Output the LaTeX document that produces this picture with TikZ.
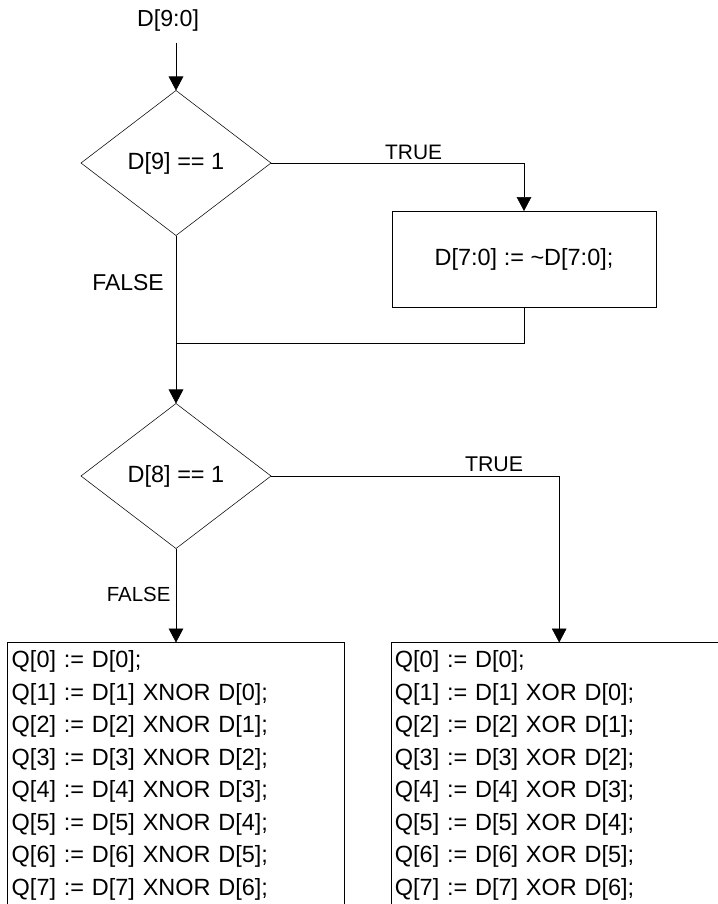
\documentclass[tikz,border=0pt]{standalone}
\usepackage{fontspec}
\setmainfont{Liberation Sans}
\usetikzlibrary{shapes.geometric,arrows.meta}
\usetikzlibrary{positioning}
\tikzset{auto,>={Triangle[length=10.5pt,width=11pt]}, line width=0.75pt, font=\fontsize{17.6}{24.4}\selectfont}
\tikzstyle{decision} = [draw, diamond, minimum width=142.5pt, minimum height=108.75pt, inner sep=0pt, outer sep=0pt]
\tikzstyle{block} = [draw, rectangle, minimum width=198pt, minimum height=72pt, outer sep=0pt]
\tikzstyle{listing} = [draw, rectangle, anchor=north, align=left, text width=246.4pt, inner xsep=3pt, inner ysep=6pt, text depth=200pt, outer sep=0pt]
\tikzstyle{input} = [coordinate]
\tikzstyle{tag} = [inner sep=0pt]
\begin{document}
\begin{tikzpicture}[x=0.75pt, y=-0.75pt]
    \useasboundingbox (0,0) rectangle (718,904);
    \node [decision] (d9) at (176,163) {D[9] == 1};
    \node [input, above=36pt of d9.north] (start) {};
    \node [tag, above=8pt of start, xshift=-6pt, font=\fontsize{17.4}{20}\selectfont] (din) {D[9:0]};
    \node [block, right=90.75pt of d9, yshift=-72pt] (inv) {D[7:0] := \textasciitilde D[7:0];};
    \node [input, below=27pt of inv.south] (inv_out) {};
    \node [decision, below=126pt of d9] (d8) {D[8] == 1};
    \node [listing, below=70.5pt of d8] (xnor) {Q[0] := D[0];\\
        Q[1] := D[1] XNOR D[0];\\
        Q[2] := D[2] XNOR D[1];\\
        Q[3] := D[3] XNOR D[2];\\
        Q[4] := D[4] XNOR D[3];\\
        Q[5] := D[5] XNOR D[4];\\
        Q[6] := D[6] XNOR D[5];\\
        Q[7] := D[7] XNOR D[6];};
    \node [listing, right=35pt of xnor.north east, anchor=north west] (xor) {Q[0] := D[0];\\
        Q[1] := D[1] XOR D[0];\\
        Q[2] := D[2] XOR D[1];\\
        Q[3] := D[3] XOR D[2];\\
        Q[4] := D[4] XOR D[3];\\
        Q[5] := D[5] XOR D[4];\\
        Q[6] := D[6] XOR D[5];\\
        Q[7] := D[7] XOR D[6];};

    \draw [->] (start) -- (d9);
    \draw [->] (d9.east) -| node [tag, pos=0.282, above=2.6pt, font=\fontsize{15.7}{18}\selectfont] {TRUE} (inv.north);
    \draw [->] (d9) -- node [tag, pos=0.28, left=9pt, font=\fontsize{17.2}{20}\selectfont] {FALSE} (d8);
    \draw (inv.south) -- (inv_out) -- (inv_out -| d9.south);
    \draw [->] (d8.east) -| node [tag, pos=0.387, above=3.2pt, font=\fontsize{16}{18}\selectfont] {TRUE} (xor.north);
    \draw [->] (d8) -- node [tag, pos=0.49, left=4pt, font=\fontsize{15.3}{18}\selectfont] {FALSE} (xnor);
\end{tikzpicture}
\end{document}
